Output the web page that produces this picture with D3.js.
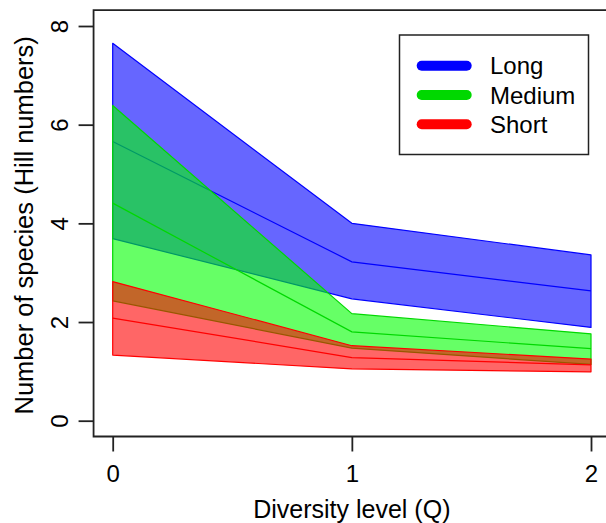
<!DOCTYPE html>
<html>
<head>
<meta charset="utf-8">
<script src="https://cdn.jsdelivr.net/npm/d3@7"></script>
<style>
	body { margin: 0; background: #fff; }
	text { font-family: "Liberation Sans", Arial, sans-serif; fill: #000; }
</style>
</head>
<body>
<script>
var levels = [0, 1, 2];
var seriesNames = ["Long", "Medium", "Short"];
var seriesColors = ["#0000ff", "#00ff00", "#ff0000"];
var lineColors = ["#0000ff", "#00d800", "#ff0000"];

// upper / estimate / lower per diversity level
var longUpper = [7.65, 4.00, 3.36],
	longMid = [5.66, 3.22, 2.63],
	longLower = [3.69, 2.47, 1.89];
var mediumUpper = [6.39, 2.17, 1.76],
	mediumMid = [4.41, 1.80, 1.46],
	mediumLower = [2.43, 1.47, 1.14];
var shortUpper = [2.82, 1.52, 1.25],
	shortMid = [2.08, 1.28, 1.13],
	shortLower = [1.33, 1.05, 0.99];

var yTicks = [0, 2, 4, 6, 8];

var series = [
	{name: seriesNames[0], color: seriesColors[0], stroke: lineColors[0], upper: longUpper, mid: longMid, lower: longLower},
	{name: seriesNames[1], color: seriesColors[1], stroke: lineColors[1], upper: mediumUpper, mid: mediumMid, lower: mediumLower},
	{name: seriesNames[2], color: seriesColors[2], stroke: lineColors[2], upper: shortUpper, mid: shortMid, lower: shortLower}
];

var width = 606, height = 523;

var x = d3.scaleLinear()
	.domain([0, 2])
	.range([112.7, 591]);
var y = d3.scaleLinear()
	.domain([0, 8])
	.range([420.7, 26]);

// plot region extended by 4% like base R
var x0 = x(-0.08), x1 = x(2.08),
	yb = y(-0.32), yt = y(8.32);

var svg = d3.select("body").append("svg")
	.attr("width", width)
	.attr("height", height);

var area = d3.area()
	.x(function(d) { return x(d.q); })
	.y0(function(d) { return y(d.lo); })
	.y1(function(d) { return y(d.hi); });
var line = d3.line()
	.x(function(d) { return x(d.q); })
	.y(function(d) { return y(d.v); });

series.forEach(function(s) {
	var pts = levels.map(function(q, i) {
		return {q: q, lo: s.lower[i], hi: s.upper[i], v: s.mid[i]};
	});
	svg.append("path")
		.attr("d", area(pts) + "Z")
		.attr("fill", s.color)
		.attr("fill-opacity", 0.6)
		.attr("stroke", s.stroke)
		.attr("stroke-width", 1.2)
		.attr("stroke-linejoin", "round");
	svg.append("path")
		.attr("d", line(pts))
		.attr("fill", "none")
		.attr("stroke", s.stroke)
		.attr("stroke-width", 1.2);
});

// frame
svg.append("path")
	.attr("d", "M" + x1 + "," + yt + "H" + x0 + "V" + yb + "H" + x1)
	.attr("fill", "none")
	.attr("stroke", "#222")
	.attr("stroke-width", 1.8);

var yAxis = svg.append("g")
	.attr("transform", "translate(" + x0 + ",0)")
	.call(d3.axisLeft(y).tickValues(yTicks).tickSize(15).tickSizeOuter(0));
var xAxis = svg.append("g")
	.attr("transform", "translate(0," + yb + ")")
	.call(d3.axisBottom(x).tickValues(levels).tickFormat(d3.format("d")).tickSize(15).tickSizeOuter(0));

[xAxis, yAxis].forEach(function(g) {
	g.select(".domain").remove();
	g.selectAll("line").attr("stroke", "#222").attr("stroke-width", 1.8);
	g.selectAll("text")
		.attr("font-family", "'Liberation Sans', Arial, sans-serif")
		.attr("font-size", 24)
		.attr("fill", "#000");
});
yAxis.selectAll("text")
	.attr("x", null).attr("dy", null).attr("y", null)
	.attr("text-anchor", "middle")
	.attr("transform", "translate(-26,0) rotate(-90)");
xAxis.selectAll("text")
	.attr("dy", null)
	.attr("y", 45.5);

svg.append("text")
	.attr("x", (x0 + x1) / 2)
	.attr("y", 518)
	.attr("text-anchor", "middle")
	.attr("font-size", 25)
	.text("Diversity level (Q)");
svg.append("text")
	.attr("transform", "translate(33," + ((yt + yb) / 2 + 2) + ") rotate(-90)")
	.attr("text-anchor", "middle")
	.attr("font-size", 25.5)
	.text("Number of species (Hill numbers)");

// legend
var legend = svg.append("g");
legend.append("rect")
	.attr("x", 399.5).attr("y", 35)
	.attr("width", 189).attr("height", 119.5)
	.attr("fill", "#fff")
	.attr("stroke", "#222")
	.attr("stroke-width", 1.5);
var item = legend.selectAll(".item")
	.data(series)
	.enter().append("g")
	.attr("class", "item")
	.attr("transform", function(d, i) { return "translate(0," + (65.7 + i * 29.3) + ")"; });
item.append("line")
	.attr("x1", 421.7).attr("x2", 466.7)
	.attr("stroke", function(d) { return d.stroke; })
	.attr("stroke-width", 10)
	.attr("stroke-linecap", "round");
item.append("text")
	.attr("x", 490)
	.attr("y", 8.6)
	.attr("font-size", 24)
	.text(function(d) { return d.name; });
</script>
</body>
</html>
